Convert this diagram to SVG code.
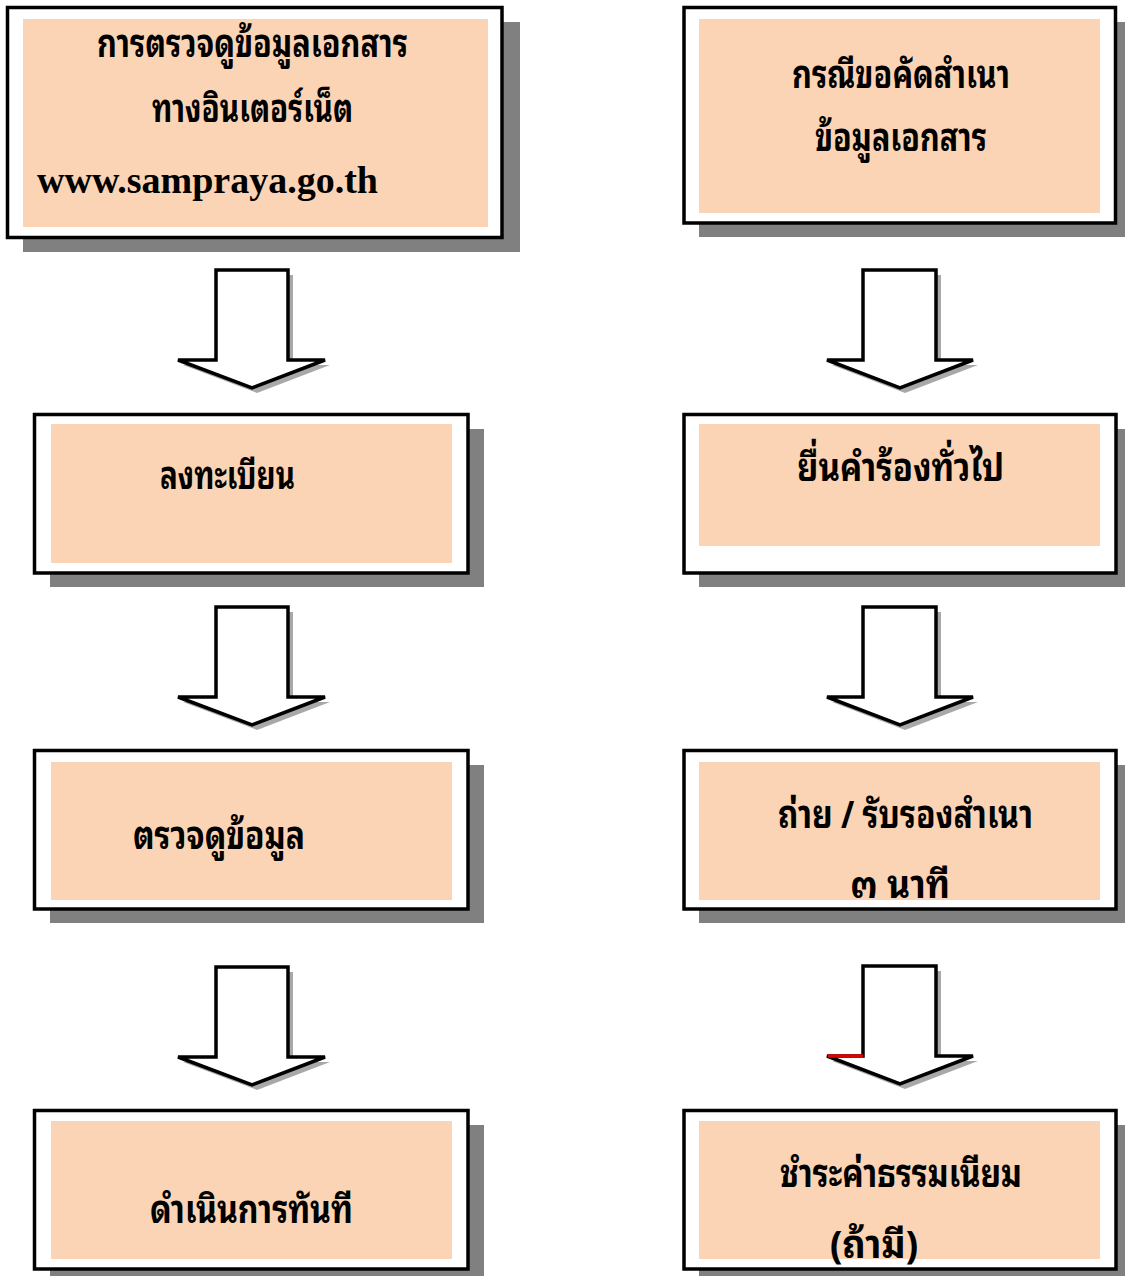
<svg xmlns="http://www.w3.org/2000/svg" width="1125" height="1276" viewBox="0 0 1125 1276">
<style>
.shadow{fill:#808080}
.outer{fill:#ffffff;stroke:#000000;stroke-width:3.5}
.peach{fill:#FAD4B4}
.ashadow{fill:#a8a8a8}
.arrow{fill:#ffffff;stroke:#000000;stroke-width:3.5;stroke-linejoin:miter}
.th{font-family:"Noto Sans Thai Looped","Noto Serif Thai","Loma","Garuda","Norasi","Tlwg Typo","Noto Sans Thai","DejaVu Sans","Noto Sans",sans-serif;font-weight:bold;font-size:38px;fill:#000000}
.en{font-family:"Liberation Serif","Times New Roman",serif;font-weight:bold;font-size:38px;fill:#000000}
</style>
<rect width="1125" height="1276" fill="#ffffff"/>
<g id="connectors">
  <g id="arrow-l1">
    <polygon class="ashadow" points="221,275 293,275 293,365 330,365 257,393 183,365 221,365"/>
    <polygon class="arrow" points="216,270 288,270 288,360 325,360 252,388 178,360 216,360"/>
  </g>
  <g id="arrow-l2">
    <polygon class="ashadow" points="221,612 293,612 293,702 330,702 257,730 183,702 221,702"/>
    <polygon class="arrow" points="216,607 288,607 288,697 325,697 252,725 178,697 216,697"/>
  </g>
  <g id="arrow-l3">
    <polygon class="ashadow" points="221,972 293,972 293,1062 330,1062 257,1090 183,1062 221,1062"/>
    <polygon class="arrow" points="216,967 288,967 288,1057 325,1057 252,1085 178,1057 216,1057"/>
  </g>
  <g id="arrow-r1">
    <polygon class="ashadow" points="868,275 941,275 941,365 978,365 905,393 832,365 868,365"/>
    <polygon class="arrow" points="863,270 936,270 936,360 973,360 900,388 827,360 863,360"/>
  </g>
  <g id="arrow-r2">
    <polygon class="ashadow" points="868,612 941,612 941,702 978,702 905,730 832,702 868,702"/>
    <polygon class="arrow" points="863,607 936,607 936,697 973,697 900,725 827,697 863,697"/>
  </g>
  <g id="arrow-r3">
    <polygon class="ashadow" points="868,971 941,971 941,1061 978,1061 905,1089 832,1061 868,1061"/>
    <polygon class="arrow" points="863,966 936,966 936,1056 973,1056 900,1084 827,1056 863,1056"/>
    <line x1="828" y1="1056" x2="863" y2="1056" stroke="#e00000" stroke-width="3.5"/>
  </g>
</g>
<g id="node-l1">
  <rect class="shadow" x="23" y="22" width="497" height="230"/>
  <rect class="outer" x="7.5" y="7.5" width="494.5" height="230"/>
  <rect class="peach" x="23" y="19" width="465" height="208"/>
  <text class="th" x="97" y="57" textLength="311" lengthAdjust="spacingAndGlyphs">การตรวจดูข้อมูลเอกสาร</text>
  <text class="th" x="152" y="122" textLength="201" lengthAdjust="spacingAndGlyphs">ทางอินเตอร์เน็ต</text>
  <text class="en" x="37" y="193" textLength="341" lengthAdjust="spacingAndGlyphs">www.sampraya.go.th</text>
</g>
<g id="node-r1">
  <rect class="shadow" x="699" y="22" width="432" height="215"/>
  <rect class="outer" x="684" y="7.5" width="431.5" height="215.5"/>
  <rect class="peach" x="699" y="19" width="401" height="194"/>
  <text class="th" x="792" y="88" textLength="218" lengthAdjust="spacingAndGlyphs">กรณีขอคัดสำเนา</text>
  <text class="th" x="815" y="151" textLength="172" lengthAdjust="spacingAndGlyphs">ข้อมูลเอกสาร</text>
</g>
<g id="node-l2">
  <rect class="shadow" x="50" y="429" width="434" height="158"/>
  <rect class="outer" x="34.5" y="414.5" width="433.5" height="158.5"/>
  <rect class="peach" x="51" y="424" width="401" height="139"/>
  <text class="th" x="160" y="489" textLength="135" lengthAdjust="spacingAndGlyphs">ลงทะเบียน</text>
</g>
<g id="node-r2">
  <rect class="shadow" x="699" y="429" width="432" height="158"/>
  <rect class="outer" x="684" y="414.5" width="432" height="158.5"/>
  <rect class="peach" x="699" y="424" width="401" height="122"/>
  <text class="th" x="797" y="481" textLength="207" lengthAdjust="spacingAndGlyphs">ยื่นคำร้องทั่วไป</text>
</g>
<g id="node-l3">
  <rect class="shadow" x="50" y="765" width="434" height="158"/>
  <rect class="outer" x="34.5" y="750.5" width="433.5" height="158.5"/>
  <rect class="peach" x="51" y="762" width="401" height="138"/>
  <text class="th" x="133" y="849" textLength="172" lengthAdjust="spacingAndGlyphs">ตรวจดูข้อมูล</text>
</g>
<g id="node-r3">
  <rect class="shadow" x="699" y="765" width="432" height="158"/>
  <rect class="outer" x="684" y="750.5" width="432" height="158.5"/>
  <rect class="peach" x="699" y="762" width="401" height="138"/>
  <text class="th" x="778" y="828" textLength="255" lengthAdjust="spacingAndGlyphs">ถ่าย / รับรองสำเนา</text>
  <text class="th" x="850" y="898" textLength="100" lengthAdjust="spacingAndGlyphs">๓ นาที</text>
</g>
<g id="node-l4">
  <rect class="shadow" x="50" y="1125" width="434" height="158"/>
  <rect class="outer" x="34.5" y="1110.5" width="433.5" height="158.5"/>
  <rect class="peach" x="51" y="1121" width="401" height="138"/>
  <text class="th" x="150" y="1223" textLength="203" lengthAdjust="spacingAndGlyphs">ดำเนินการทันที</text>
</g>
<g id="node-r4">
  <rect class="shadow" x="699" y="1125" width="432" height="158"/>
  <rect class="outer" x="684" y="1110.5" width="432" height="158.5"/>
  <rect class="peach" x="699" y="1121" width="401" height="138"/>
  <text class="th" x="780" y="1187" textLength="242" lengthAdjust="spacingAndGlyphs">ชำระค่าธรรมเนียม</text>
  <text class="th" x="830" y="1258" textLength="88" lengthAdjust="spacingAndGlyphs">(ถ้ามี)</text>
</g>
</svg>
